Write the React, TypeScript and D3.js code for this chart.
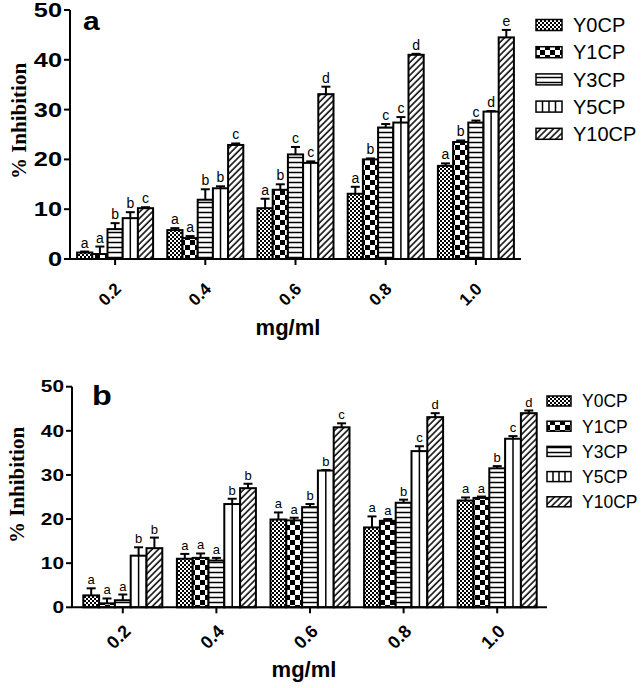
import React from "react";
import * as d3 from "d3";

const doses = ["0.2", "0.4", "0.6", "0.8", "1.0"];
const seriesNames = ["Y0CP", "Y1CP", "Y3CP", "Y5CP", "Y10CP"];
const yTicks = [0, 10, 20, 30, 40, 50];

// Panel a
const aY0CP = [1.3, 5.8, 10.2, 13.1, 18.7];
const aY1CP = [1.0, 4.2, 13.9, 20.0, 23.5];
const aY3CP = [6.0, 11.9, 21.0, 26.4, 27.4];
const aY5CP = [8.2, 14.2, 19.3, 27.4, 29.6];
const aY10CP = [10.2, 22.9, 33.1, 41.0, 44.5];
const aErrY0CP = [0.2, 0.4, 1.9, 1.4, 0.5];
const aErrY1CP = [1.5, 0.4, 1.1, 0.2, 0.3];
const aErrY3CP = [1.2, 2.1, 1.5, 0.7, 0.4];
const aErrY5CP = [1.2, 0.4, 0.3, 1.1, 0.1];
const aErrY10CP = [0.2, 0.3, 1.5, 0.2, 1.5];
const aLblY0CP = ["a", "a", "a", "a", "a"];
const aLblY1CP = ["a", "a", "b", "b", "b"];
const aLblY3CP = ["b", "b", "c", "c", "c"];
const aLblY5CP = ["b", "b", "c", "c", "d"];
const aLblY10CP = ["c", "c", "d", "d", "e"];

// Panel b
const bY0CP = [2.7, 11.0, 19.9, 18.1, 24.2];
const bY1CP = [0.9, 11.2, 19.7, 19.6, 24.8];
const bY3CP = [1.6, 10.6, 22.7, 23.7, 31.5];
const bY5CP = [11.7, 23.4, 31.0, 35.4, 38.2];
const bY10CP = [13.4, 27.0, 40.8, 43.1, 44.0];
const bErrY0CP = [1.6, 1.1, 1.6, 2.5, 0.7];
const bErrY1CP = [1.1, 1.0, 0.6, 0.4, 0.3];
const bErrY3CP = [1.3, 0.6, 0.7, 0.7, 0.5];
const bErrY5CP = [1.9, 1.2, 0.1, 1.1, 0.6];
const bErrY10CP = [2.4, 1.0, 0.9, 0.9, 0.6];
const bLblY0CP = ["a", "a", "a", "a", "a"];
const bLblY1CP = ["a", "a", "a", "a", "a"];
const bLblY3CP = ["a", "a", "b", "b", "b"];
const bLblY5CP = ["b", "b", "b", "c", "c"];
const bLblY10CP = ["b", "b", "c", "d", "d"];

type Series = { name: string; values: number[]; errs: number[]; labels: string[] };

const seriesA: Series[] = [
  { name: seriesNames[0], values: aY0CP, errs: aErrY0CP, labels: aLblY0CP },
  { name: seriesNames[1], values: aY1CP, errs: aErrY1CP, labels: aLblY1CP },
  { name: seriesNames[2], values: aY3CP, errs: aErrY3CP, labels: aLblY3CP },
  { name: seriesNames[3], values: aY5CP, errs: aErrY5CP, labels: aLblY5CP },
  { name: seriesNames[4], values: aY10CP, errs: aErrY10CP, labels: aLblY10CP },
];
const seriesB: Series[] = [
  { name: seriesNames[0], values: bY0CP, errs: bErrY0CP, labels: bLblY0CP },
  { name: seriesNames[1], values: bY1CP, errs: bErrY1CP, labels: bLblY1CP },
  { name: seriesNames[2], values: bY3CP, errs: bErrY3CP, labels: bLblY3CP },
  { name: seriesNames[3], values: bY5CP, errs: bErrY5CP, labels: bLblY5CP },
  { name: seriesNames[4], values: bY10CP, errs: bErrY10CP, labels: bLblY10CP },
];

const fills = ["url(#pY0)", "url(#pY1)", "url(#pY3)", "#fff", "url(#pY10)"];

type Layout = {
  axisX: number;
  axisEnd: number;
  bandStart: number;
  bandEnd: number;
  groupW: number;
  yTop: number;
  yBottom: number;
  tickFont: number;
  tickScale: number;
  xTickFont: number;
  xLabDx: number;
  xLabDy: number;
  titleX: number;
  titleY: number;
  letter: string;
  letterX: number;
  letterY: number;
  letterFont: number;
  mgX: number;
  mgY: number;
  sigFont: number;
  legX: number;
  legY0: number;
  legStep: number;
  legW: number;
  legH: number;
  legFont: number;
  legTextX: number;
};

const layoutA: Layout = {
  axisX: 70, axisEnd: 521, bandStart: 70, bandEnd: 521, groupW: 76,
  yTop: 10, yBottom: 259, tickFont: 19.5, tickScale: 1.3,
  xTickFont: 17, xLabDx: 7, xLabDy: 31,
  titleX: 26, titleY: 121, letter: "a", letterX: 83, letterY: 29.5, letterFont: 25,
  mgX: 288, mgY: 335, sigFont: 14,
  legX: 536, legY0: 25, legStep: 27.2, legW: 26, legH: 11, legFont: 20, legTextX: 573,
};
const layoutB: Layout = {
  axisX: 72, axisEnd: 547, bandStart: 76, bandEnd: 544, groupW: 79,
  yTop: 386.7, yBottom: 607.3, tickFont: 16, tickScale: 1.3,
  xTickFont: 18, xLabDx: 9, xLabDy: 25,
  titleX: 24, titleY: 485, letter: "b", letterX: 92, letterY: 405, letterFont: 27,
  mgX: 304, mgY: 677, sigFont: 13,
  legX: 547, legY0: 401, legStep: 25.2, legW: 24, legH: 10, legFont: 17.5, legTextX: 582,
};

function Panel({ series, L }: { series: Series[]; L: Layout }) {
  const x0 = d3.scaleBand<string>().domain(doses).range([L.bandStart, L.bandEnd]).padding(0);
  const x1 = d3.scaleBand<string>().domain(seriesNames).range([0, L.groupW]).padding(0);
  const y = d3.scaleLinear().domain([0, 50]).range([L.yBottom, L.yTop]);
  const bw = x1.bandwidth();
  const cap = 9;
  return (
    <g>
      {series.map((s, si) =>
        s.values.map((v, di) => {
          const gx = (x0(doses[di]) as number) + (x0.bandwidth() - L.groupW) / 2;
          const bx = gx + (x1(s.name) as number);
          const top = y(v);
          const cx = bx + bw / 2;
          const et = y(v + s.errs[di]);
          return (
            <g key={`${si}-${di}`}>
              <rect x={bx} y={top} width={bw} height={y(0) - top} fill={fills[si]} stroke="#000" strokeWidth={2} />
              {si === 3 && <line x1={cx} x2={cx} y1={top} y2={y(0)} stroke="#000" strokeWidth={1.5} />}
              <line x1={cx} x2={cx} y1={top} y2={et} stroke="#000" strokeWidth={2} />
              <line x1={cx - cap / 2} x2={cx + cap / 2} y1={et} y2={et} stroke="#000" strokeWidth={2} />
              <text x={cx} y={et - 4} textAnchor="middle" fontSize={L.sigFont} fill="#000" fontFamily="Liberation Sans, Arial, sans-serif">
                {s.labels[di]}
              </text>
            </g>
          );
        })
      )}
      <line x1={L.axisX} x2={L.axisX} y1={L.yTop} y2={L.yBottom} stroke="#000" strokeWidth={2} />
      {yTicks.map((t) => (
        <g key={t}>
          <line x1={L.axisX - 6} x2={L.axisX} y1={y(t)} y2={y(t)} stroke="#000" strokeWidth={2} />
          <g transform={`translate(${L.axisX - 8},${y(t)}) scale(${L.tickScale},1)`}>
            <text textAnchor="end" dy="0.36em" fontSize={L.tickFont} fontWeight="bold" fontFamily="Liberation Sans, Arial, sans-serif">
              {t}
            </text>
          </g>
        </g>
      ))}
      <line x1={L.axisX} x2={L.axisEnd} y1={L.yBottom} y2={L.yBottom} stroke="#000" strokeWidth={2} />
      {doses.map((d) => {
        const cx = (x0(d) as number) + x0.bandwidth() / 2;
        return (
          <g key={d}>
            <line x1={cx} x2={cx} y1={L.yBottom} y2={L.yBottom + 6} stroke="#000" strokeWidth={2} />
            <text
              transform={`translate(${cx + L.xLabDx},${L.yBottom + L.xLabDy}) rotate(-45)`}
              textAnchor="end"
              fontSize={L.xTickFont}
              fontWeight="bold"
              fontFamily="Liberation Sans, Arial, sans-serif"
            >
              {d}
            </text>
          </g>
        );
      })}
      <text
        transform={`translate(${L.titleX},${L.titleY}) rotate(-90)`}
        textAnchor="middle"
        fontSize={21}
        fontWeight="bold"
        fontFamily="Liberation Serif, Times New Roman, serif"
      >
        % Inhibition
      </text>
      <g transform={`translate(${L.letterX},${L.letterY}) scale(1.2,1)`}>
        <text fontSize={L.letterFont} fontWeight="bold" fontFamily="Liberation Sans, Arial, sans-serif">
          {L.letter}
        </text>
      </g>
      <text x={L.mgX} y={L.mgY} textAnchor="middle" fontSize={22} fontWeight="bold" fontFamily="Liberation Sans, Arial, sans-serif">
        mg/ml
      </text>
      {seriesNames.map((n, i) => {
        const cy = L.legY0 + i * L.legStep;
        const rx = L.legX;
        const ry = cy - L.legH / 2;
        return (
          <g key={n}>
            <rect x={rx} y={ry} width={L.legW} height={L.legH} fill={fills[i]} stroke="#000" strokeWidth={1.5} />
            {i === 3 &&
              [1, 2, 3].map((k) => (
                <line key={k} x1={rx + (k * L.legW) / 4} x2={rx + (k * L.legW) / 4} y1={ry} y2={ry + L.legH} stroke="#000" strokeWidth={1.5} />
              ))}
            <text x={L.legTextX} y={cy} dy="0.36em" fontSize={L.legFont} fontFamily="Liberation Sans, Arial, sans-serif">
              {n}
            </text>
          </g>
        );
      })}
    </g>
  );
}

export default function App() {
  return (
    <svg
      width={643}
      height={688}
      viewBox="0 0 643 688"
      style={{ position: "absolute", left: 0, top: 0, display: "block", background: "#fff" }}
    >
      <defs>
        <pattern id="pY0" patternUnits="userSpaceOnUse" width={4} height={4}>
          <rect width={4} height={4} fill="#fff" />
          <rect x={0} y={0} width={2} height={2} fill="#000" />
          <rect x={2} y={2} width={2} height={2} fill="#000" />
        </pattern>
        <pattern id="pY1" patternUnits="userSpaceOnUse" width={10} height={10}>
          <rect width={10} height={10} fill="#fff" />
          <rect x={0} y={0} width={5} height={5} fill="#000" />
          <rect x={5} y={5} width={5} height={5} fill="#000" />
        </pattern>
        <pattern id="pY3" patternUnits="userSpaceOnUse" width={5} height={5}>
          <rect width={5} height={5} fill="#fff" />
          <line x1={0} x2={5} y1={2.5} y2={2.5} stroke="#000" strokeWidth={1.5} />
        </pattern>
        <pattern id="pY10" patternUnits="userSpaceOnUse" width={4.5} height={4.5} patternTransform="rotate(45)">
          <rect width={4.5} height={4.5} fill="#fff" />
          <line x1={1} x2={1} y1={0} y2={4.5} stroke="#000" strokeWidth={1.5} />
        </pattern>
      </defs>
      <rect width={643} height={688} fill="#fff" />
      <Panel series={seriesA} L={layoutA} />
      <Panel series={seriesB} L={layoutB} />
    </svg>
  );
}
